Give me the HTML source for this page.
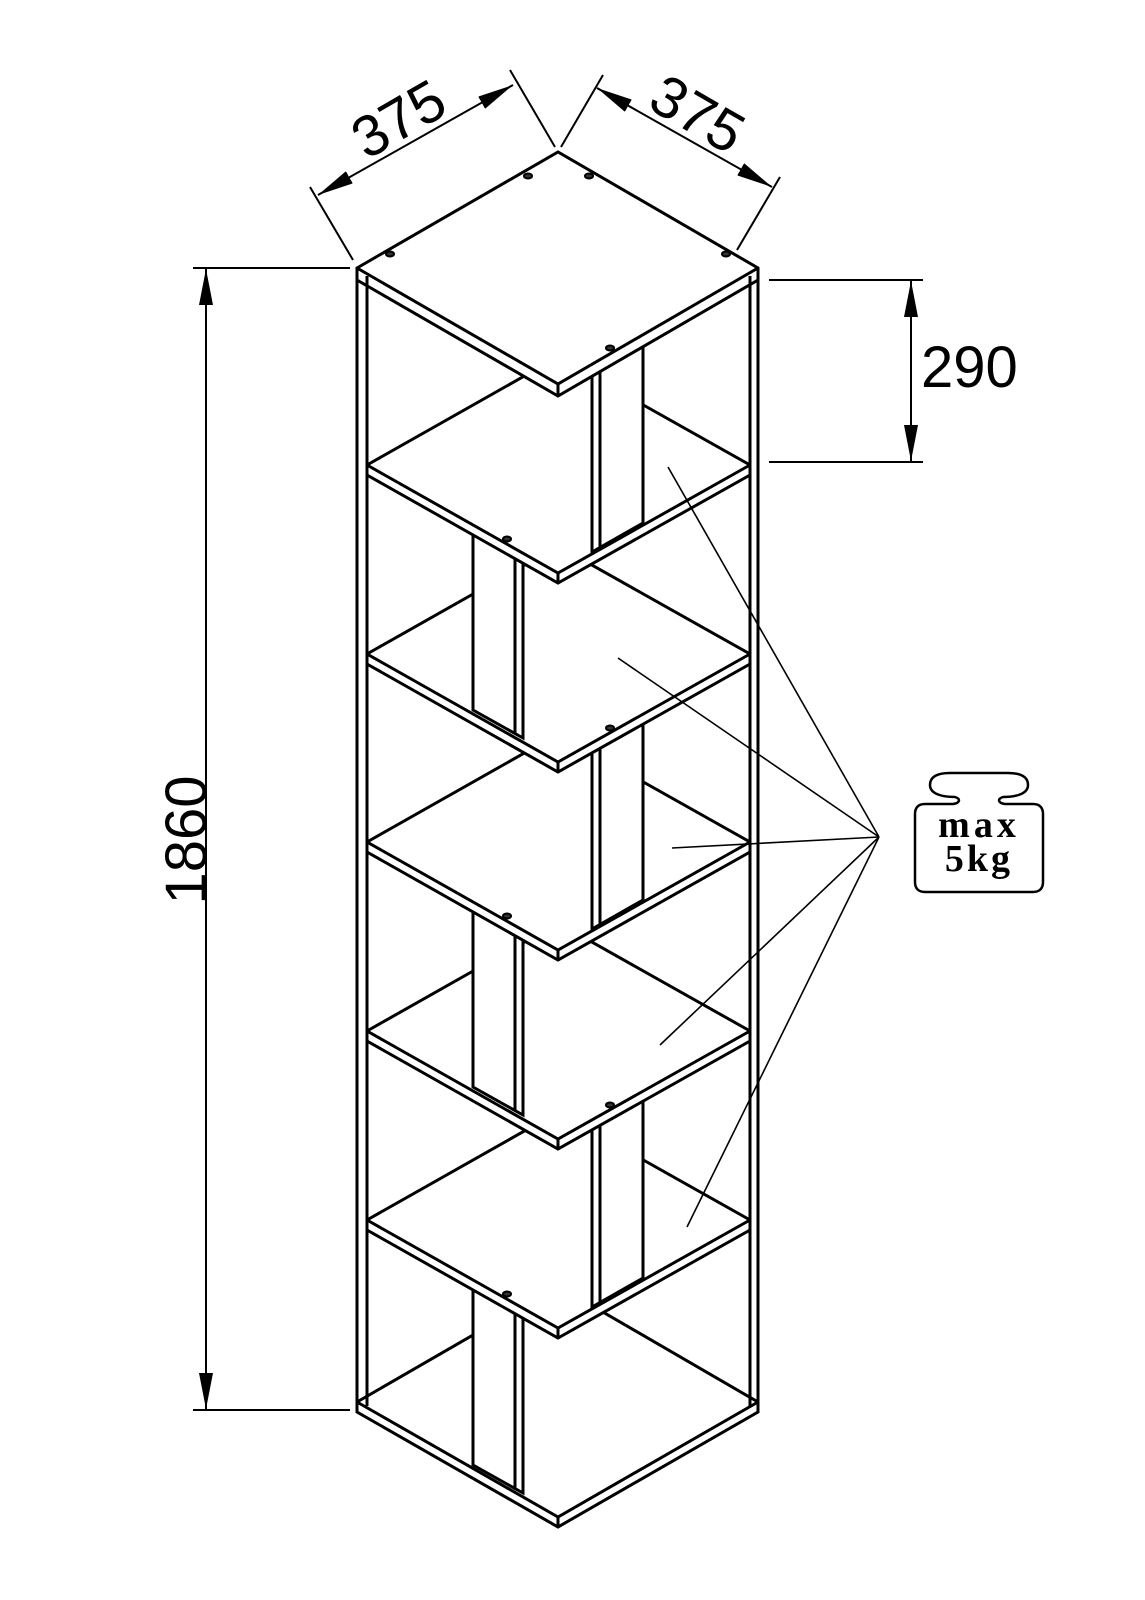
<!DOCTYPE html>
<html><head><meta charset="utf-8"><style>
html,body{margin:0;padding:0;background:#fff;}
svg{display:block}
</style></head><body>
<svg width="1145" height="1600" viewBox="0 0 1145 1600" xmlns="http://www.w3.org/2000/svg">
<defs>
<marker id="ar" markerUnits="userSpaceOnUse" markerWidth="36" markerHeight="14" refX="36" refY="7" orient="auto-start-reverse" viewBox="0 0 36 14">
<path d="M0,0 L36,7 L0,14 Z" fill="#000"/>
</marker>
</defs>
<g fill="#fff" stroke="#000" stroke-width="3" stroke-linejoin="miter">
<polygon points="357,1402 558,1286 758,1402 758,1412 558,1527 357,1412"/>
<polyline fill="none" points="357,1402 558,1517 758,1402"/><line x1="558" y1="1517" x2="558" y2="1527"/>
<polygon points="473,1250 523,1250 523,1493 473,1465"/><line x1="515" y1="1250" x2="515" y2="1489"/>
<polygon points="367,1220 558,1112 750,1220 750,1230 558,1338 367,1230"/>
<polyline fill="none" points="367,1220 558,1328 750,1220"/><line x1="558" y1="1328" x2="558" y2="1338"/>
<polygon points="592,1080 643,1080 643,1278 592,1307"/><line x1="600" y1="1080" x2="600" y2="1303"/>
<polygon points="367,1031 558,923 750,1031 750,1041 558,1149 367,1041"/>
<polyline fill="none" points="367,1031 558,1139 750,1031"/><line x1="558" y1="1139" x2="558" y2="1149"/>
<polygon points="473,880 523,880 523,1115 473,1087"/><line x1="515" y1="880" x2="515" y2="1111"/>
<polygon points="367,842 558,734 750,842 750,852 558,960 367,852"/>
<polyline fill="none" points="367,842 558,950 750,842"/><line x1="558" y1="950" x2="558" y2="960"/>
<polygon points="592,700 643,700 643,900 592,929"/><line x1="600" y1="700" x2="600" y2="925"/>
<polygon points="367,654 558,546 750,654 750,664 558,772 367,664"/>
<polyline fill="none" points="367,654 558,762 750,654"/><line x1="558" y1="762" x2="558" y2="772"/>
<polygon points="473,500 523,500 523,738 473,710"/><line x1="515" y1="500" x2="515" y2="734"/>
<polygon points="367,465 558,357 750,465 750,475 558,583 367,475"/>
<polyline fill="none" points="367,465 558,573 750,465"/><line x1="558" y1="573" x2="558" y2="583"/>
<polygon points="592,320 643,320 643,523 592,552"/><line x1="600" y1="320" x2="600" y2="548"/>
<polygon points="357,268 558,152 758,268 758,280 558,396 357,280"/>
<polyline fill="none" points="357,268 558,384 758,268"/><line x1="558" y1="384" x2="558" y2="396"/>
<line x1="357" y1="280" x2="357" y2="1402"/><line x1="367" y1="276" x2="367" y2="1406"/>
<line x1="750" y1="276" x2="750" y2="1406"/><line x1="758" y1="280" x2="758" y2="1402"/>
</g>
<g fill="#333" stroke="#000" stroke-width="2">
<ellipse cx="528" cy="176" rx="4" ry="2.5"/><ellipse cx="589" cy="176" rx="4" ry="2.5"/>
<ellipse cx="390" cy="254" rx="4" ry="2.5"/><ellipse cx="726" cy="254" rx="4" ry="2.5"/>
<ellipse cx="610" cy="348" rx="4" ry="2.5"/>
<ellipse cx="507" cy="539" rx="4" ry="2.5"/>
<ellipse cx="610" cy="728" rx="4" ry="2.5"/>
<ellipse cx="507" cy="916" rx="4" ry="2.5"/>
<ellipse cx="610" cy="1105" rx="4" ry="2.5"/>
<ellipse cx="507" cy="1294" rx="4" ry="2.5"/>
</g>
<g stroke="#000" stroke-width="2" fill="none">
<line x1="353" y1="260" x2="310" y2="187"/>
<line x1="555" y1="147" x2="510" y2="70"/>
<line x1="318" y1="195" x2="513" y2="85" marker-start="url(#ar)" marker-end="url(#ar)"/>
<line x1="561" y1="147" x2="603" y2="75"/>
<line x1="737" y1="250" x2="780" y2="177"/>
<line x1="597" y1="88" x2="772" y2="187" marker-start="url(#ar)" marker-end="url(#ar)"/>
<line x1="769" y1="280" x2="923" y2="280"/>
<line x1="769" y1="462" x2="923" y2="462"/>
<line x1="911" y1="281" x2="911" y2="461" marker-start="url(#ar)" marker-end="url(#ar)"/>
<line x1="193" y1="268" x2="350" y2="268"/>
<line x1="193" y1="1410" x2="350" y2="1410"/>
<line x1="206" y1="269" x2="206" y2="1409" marker-start="url(#ar)" marker-end="url(#ar)"/>
</g>
<g stroke="#000" stroke-width="1.6" fill="none">
<line x1="879" y1="837" x2="668" y2="467"/>
<line x1="879" y1="837" x2="618" y2="658"/>
<line x1="879" y1="837" x2="672" y2="848"/>
<line x1="879" y1="837" x2="660" y2="1045"/>
<line x1="879" y1="837" x2="687" y2="1227"/>
</g>
<path d="M955,797 C945,797 930,795 930,785 C930,775 940,773 950,773 L1008,773 C1020,773 1028,776 1028,785 C1028,795 1013,797 1003,797 C997,799 998,803 1005,804 L1033,804 C1040,804 1043,808 1043,814 L1043,882 C1043,889 1039,892 1033,892 L925,892 C919,892 915,889 915,882 L915,814 C915,808 918,804 925,804 L953,804 C960,803 961,799 955,797 Z" fill="#fff" stroke="#000" stroke-width="2.5"/>
<g font-family="'Liberation Serif', serif" font-weight="bold" font-size="38" text-anchor="middle" fill="#000">
<text x="979" y="837" letter-spacing="4">max</text>
<text x="979" y="871" letter-spacing="3">5kg</text>
</g>
<g font-family="'Liberation Sans', sans-serif" font-size="58" fill="#000">
<text transform="translate(398,118) rotate(-30)" x="0" y="21" text-anchor="middle">375</text>
<text transform="translate(698,113) rotate(30)" x="0" y="21" text-anchor="middle">375</text>
<text x="921" y="387">290</text>
<text transform="translate(185,840) rotate(-90)" x="0" y="21" text-anchor="middle">1860</text>
</g>
</svg>
</body></html>
